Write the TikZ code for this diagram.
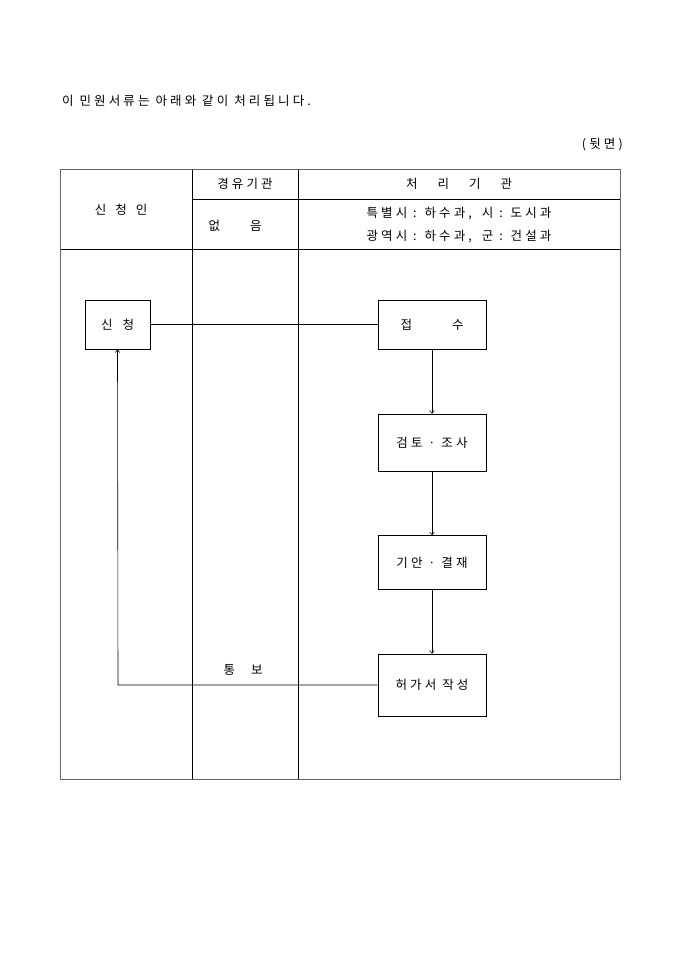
\documentclass[tikz,border=0pt]{standalone}
\usepackage{fontspec}
\setmainfont{Noto Sans CJK KR}[LetterSpace=25]
\usetikzlibrary{arrows.meta}
\begin{document}
\begin{tikzpicture}[x=1pt,y=-1pt,
  every node/.style={inner sep=0pt,font=\fontsize{12.5}{14}\selectfont},
  box/.style={draw=black,line width=0.6pt,minimum width=108pt,minimum height=56pt},
  frame/.style={draw=black!60,line width=1pt},
  inner/.style={draw=black,line width=0.7pt},
  conn/.style={draw=black,line width=0.6pt},
  arr/.style={conn,-{To[length=3.5pt,width=5pt]}}]
\useasboundingbox (0,0) rectangle (680,962);
% title
\node[anchor=west] (title) at (62,101) {이 민원서류는 아래와 같이 처리됩니다.};
\node[anchor=east] (back) at (623,145) {(뒷면)};
% table lines
\draw[inner] (192,169) -- (192,779);
\draw[inner] (298,169) -- (298,779);
\draw[inner] (192,199) -- (620,199);
\draw[inner] (60,249) -- (620,249);
\draw[frame] (60,169) rectangle (620,779);
% header texts
\node (h1) at (121,210) {신\hspace{9pt}청\hspace{9pt}인};
\node (h2) at (245,184) {경유기관};
\node (h3) at (459,184) {처\hspace{20pt}리\hspace{20pt}기\hspace{20pt}관};
\node (h4) at (235,226) {없\hspace{30pt}음};
\node (h5) at (459,214) {특별시 : 하수과,\hspace{4pt} 시 : 도시과};
\node (h6) at (459,237) {광역시 : 하수과,\hspace{4pt} 군 : 건설과};
% boxes
\node[box,minimum width=65pt,minimum height=49pt] (apply) at (117.5,324.5) {신\hspace{10pt}청};
\node[box,minimum height=49pt] (recv) at (432,324.5) {접\hspace{40pt}수};
\node[box,minimum height=57pt] (review) at (432,442.5) {검토 · 조사};
\node[box,minimum height=54pt] (draft) at (432,562.5) {기안 · 결재};
\node[box,minimum height=62pt] (permit) at (432,685) {허가서 작성};
% connectors
\draw[conn] (apply.east) -- (recv.west);
\draw[arr] (recv.south) -- (review.north);
\draw[arr] (review.south) -- (draft.north);
\draw[arr] (draft.south) -- (permit.north);
\coordinate (corner) at (118,685);
\draw[arr] (permit.west) -- (corner) -- (apply.south);
\node (notify) at (243,670) {통\hspace{16pt}보};
\end{tikzpicture}
\end{document}
